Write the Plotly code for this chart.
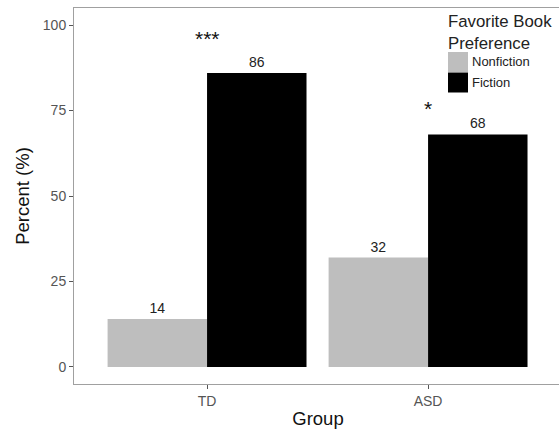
import plotly.graph_objects as go

groups = ["TD", "ASD"]
nonfiction = [14, 32]
fiction = [86, 68]
sig_labels = ["***", "*"]
sig_y = [96, 75.5]
y_ticks = [0, 25, 50, 75, 100]
legend_title_lines = ["Favorite Book", "Preference"]

FONT = "Liberation Sans, Arial, sans-serif"

fig = go.Figure()
fig.add_trace(go.Bar(
    x=groups, y=nonfiction, name="Nonfiction",
    marker=dict(color="#bebebe", line=dict(width=0)),
    text=[str(v) for v in nonfiction], textposition="outside",
    textfont=dict(family=FONT, size=14, color="#222"),
    cliponaxis=False, showlegend=False,
))
fig.add_trace(go.Bar(
    x=groups, y=fiction, name="Fiction",
    marker=dict(color="#000000", line=dict(width=0)),
    text=[str(v) for v in fiction], textposition="outside",
    textfont=dict(family=FONT, size=14, color="#222"),
    cliponaxis=False, showlegend=False,
))

for g, s, yv in zip(groups, sig_labels, sig_y):
    fig.add_annotation(x=g, y=yv, text=s, showarrow=False, xref="x", yref="y",
                       font=dict(family=FONT, size=21, color="#111"),
                       yanchor="middle")

W, H = 562, 430
PL, PT, PB = 74, 8, 384
PW = W - PL
PH = PB - PT

def px(x):
    return (x - PL) / PW

def py(y):
    return (PB - y) / PH

# manual legend (ggplot style, 20px keys)
fig.add_annotation(xref="paper", yref="paper", x=px(446), y=py(32.5),
                   text="<br>".join(legend_title_lines), showarrow=False,
                   xanchor="left", yanchor="middle", align="left",
                   font=dict(family=FONT, size=16.8, color="#222"))
legend_items = [("Nonfiction", "#bebebe"), ("Fiction", "#000000")]
for i, (lab, col) in enumerate(legend_items):
    top = 52 + i * 20.5
    x0 = 448
    fig.add_shape(type="rect", xref="paper", yref="paper",
                  x0=px(x0), x1=px(x0 + 20),
                  y0=py(top), y1=py(top + 20),
                  fillcolor=col, line=dict(width=0))
    fig.add_annotation(xref="paper", yref="paper", x=px(470),
                       y=py(top + 10), text=lab, showarrow=False,
                       xanchor="left", yanchor="middle",
                       font=dict(family=FONT, size=13, color="#222"))

fig.update_layout(
    width=W, height=H,
    margin=dict(l=PL, r=0, t=PT, b=H - PB),
    paper_bgcolor="white", plot_bgcolor="white",
    barmode="group", bargap=0.1, bargroupgap=0,
    font=dict(family=FONT),
    showlegend=False,
)
fig.update_xaxes(
    range=[-0.602, 1.606], showgrid=False, zeroline=False, automargin=False,
    showline=True, linecolor="#a0a0a0", linewidth=1, mirror=True,
    ticks="outside", ticklen=4, tickcolor="#555", tickwidth=1,
    tickfont=dict(family=FONT, size=14, color="#555"),
    title=dict(text="Group", font=dict(family=FONT, size=18.5, color="#111"), standoff=4),
)
fig.update_yaxes(
    range=[-5, 105], showgrid=False, zeroline=False, automargin=False,
    showline=True, linecolor="#a0a0a0", linewidth=1,
    tickvals=y_ticks, ticktext=[str(t) for t in y_ticks],
    ticks="outside", ticklen=4, tickcolor="#555", tickwidth=1,
    tickfont=dict(family=FONT, size=14, color="#555"),
    title=dict(text="Percent (%)", font=dict(family=FONT, size=18.5, color="#111"), standoff=8),
)

fig.write_html(
    "out.html",
    config={"responsive": False, "displayModeBar": False},
    post_script="document.body.style.margin='0';document.body.style.overflow='hidden';",
)
